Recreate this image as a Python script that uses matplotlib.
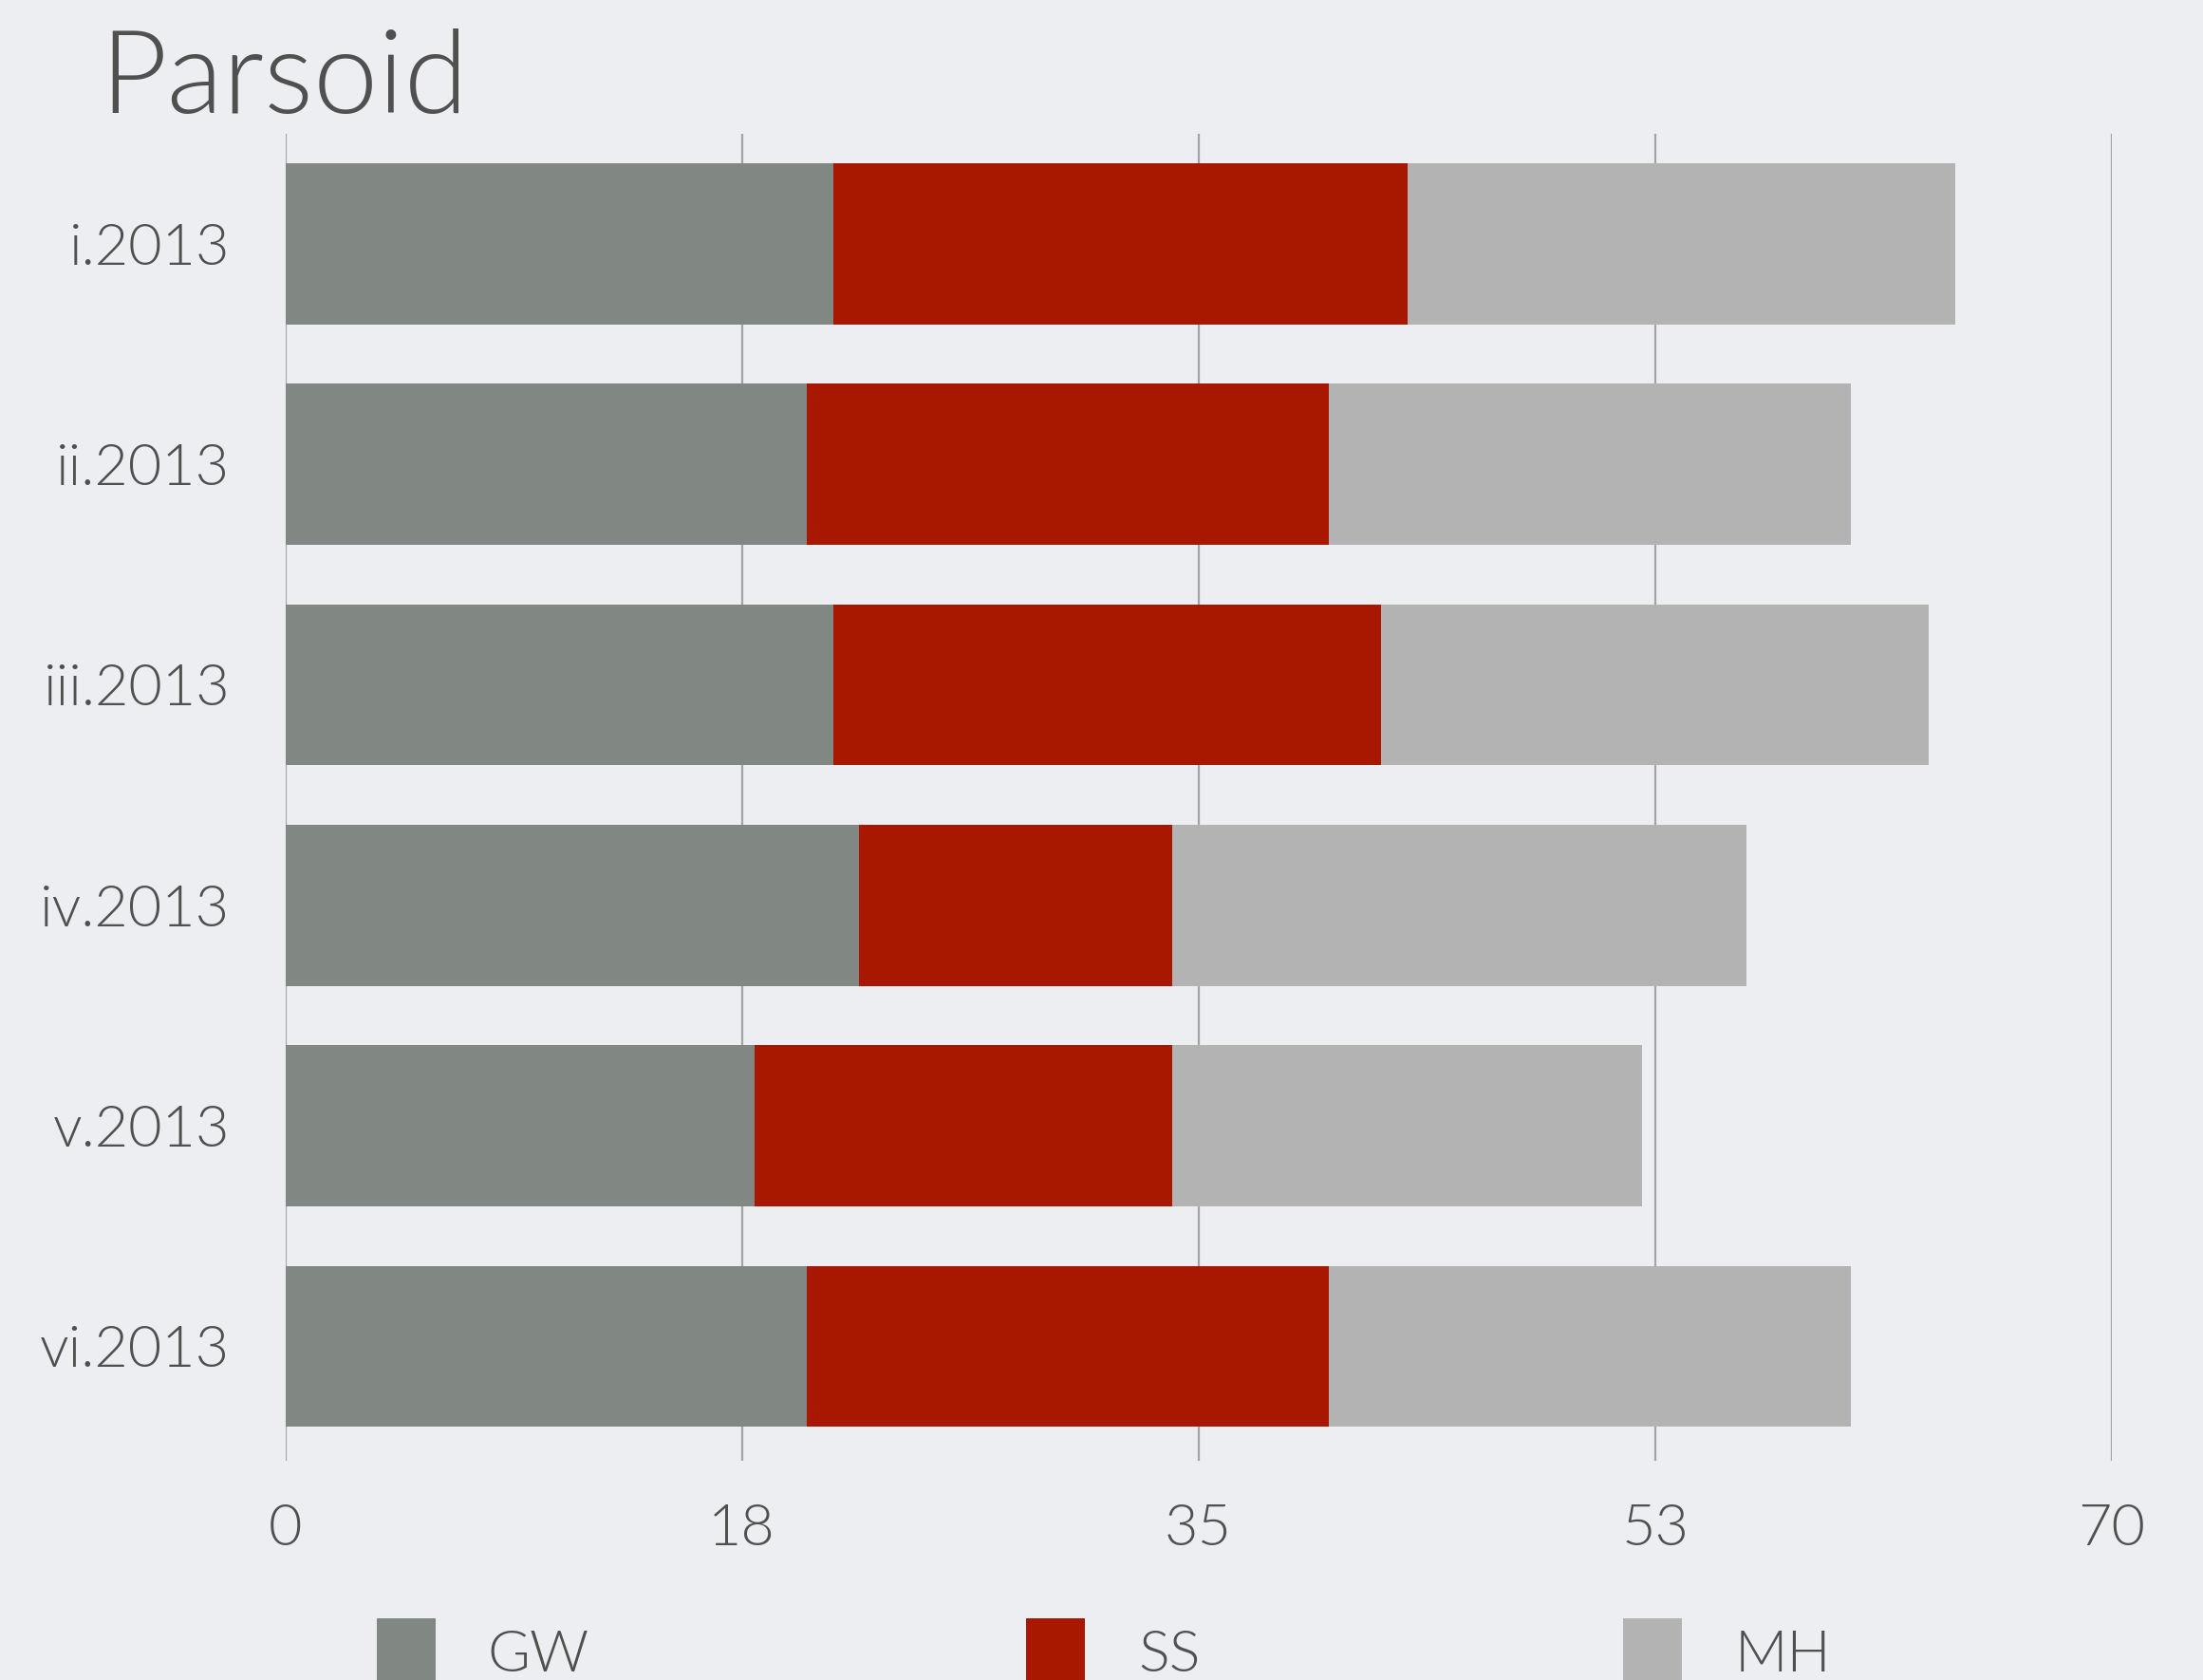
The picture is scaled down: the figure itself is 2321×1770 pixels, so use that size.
import matplotlib
matplotlib.use("Agg")
import matplotlib.pyplot as plt
import numpy as np
from matplotlib.patches import Rectangle

categories = ["i.2013", "ii.2013", "iii.2013", "iv.2013", "v.2013", "vi.2013"]
series_names = ["GW", "SS", "MH"]
gw = [21, 20, 21, 22, 18, 20]
ss = [22, 20, 21, 12, 16, 20]
mh = [21, 20, 21, 22, 18, 20]
xticks = [0, 17.5, 35, 52.5, 70]
xtick_labels = ["0", "18", "35", "53", "70"]
title = "Parsoid"

colors = ["#818884", "#a81800", "#b3b3b3"]
text_color = "#505050"
plt.rcParams['font.family'] = ['Lato', 'DejaVu Sans']
W = 300

fig = plt.figure(figsize=(23.21, 17.70), dpi=100)
fig.patch.set_facecolor("#edeef1")
ax = fig.add_axes([0.1295, 0.1304, 0.8290, 0.7902])
ax.set_facecolor("none")

y = np.arange(len(categories))
left = np.zeros(len(categories))
for name, vals, c in zip(series_names, [gw, ss, mh], colors):
    ax.barh(y, vals, left=left, height=0.73, color=c, edgecolor="none", zorder=3)
    left = left + np.array(vals)

ax.set_xlim(0, 70)
ax.set_ylim(5.52, -0.5)
ax.set_xticks(xticks)
ax.set_xticklabels(xtick_labels)
ax.set_yticks(y)
ax.set_yticklabels(categories)
ax.tick_params(axis="both", length=0, labelsize=44, labelcolor=text_color)
ax.tick_params(axis="x", pad=32)
ax.tick_params(axis="y", pad=42)
for lab in ax.get_xticklabels() + ax.get_yticklabels():
    lab.set_fontweight(W)
ax.grid(axis="x", color="#a4a4a4", linewidth=1.6, zorder=0)
ax.grid(axis="y", visible=False)
for s in ax.spines.values():
    s.set_visible(False)

fig.text(0.0455, 0.933, title, fontsize=88, color=text_color, fontweight=W,
         ha="left", va="baseline")

# legend
sq_x = [0.171, 0.4656, 0.7366]
tx_x = [0.2213, 0.5166, 0.7876]
for name, c, sx, tx in zip(series_names, colors, sq_x, tx_x):
    fig.patches.append(Rectangle((sx, -0.002), 0.0268, 0.0385, transform=fig.transFigure,
                                 facecolor=c, edgecolor="none"))
    fig.text(tx, 0.005, name, fontsize=44, color=text_color, fontweight=W,
             ha="left", va="baseline")

fig.savefig("out.png", dpi=100, facecolor=fig.get_facecolor())
